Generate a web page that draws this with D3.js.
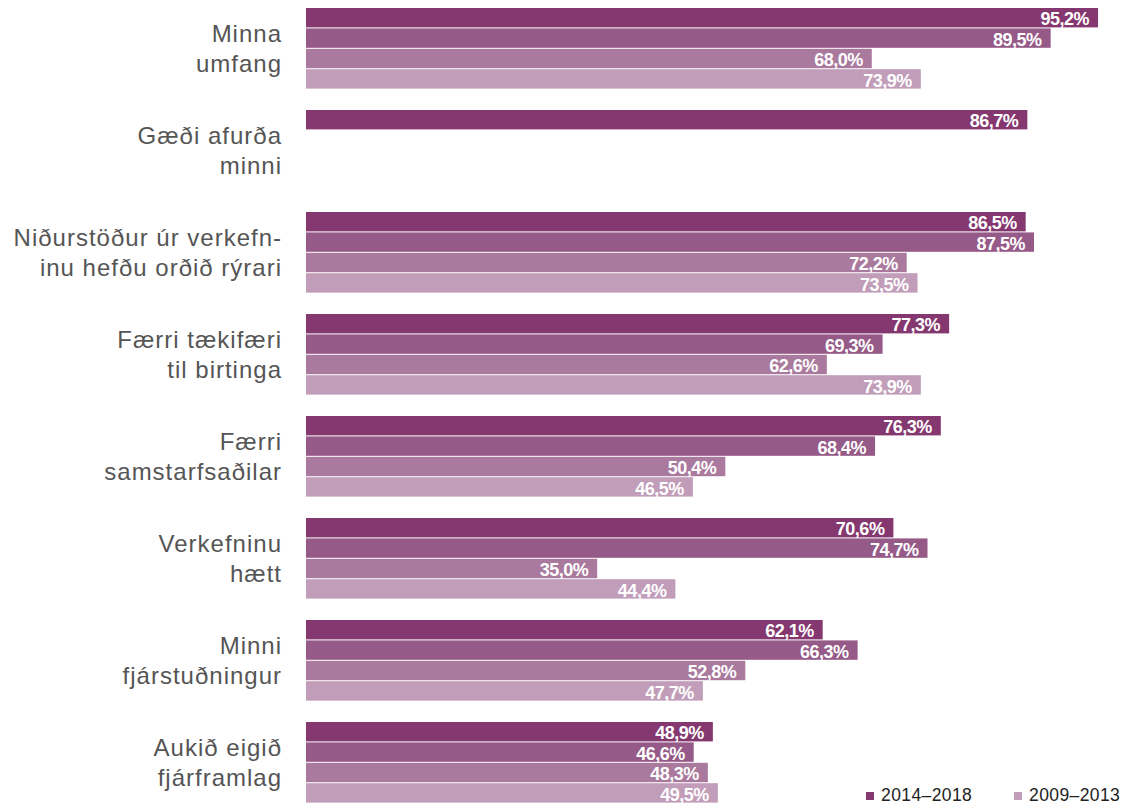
<!DOCTYPE html>
<html>
<head>
<meta charset="utf-8">
<script src="https://cdn.jsdelivr.net/npm/d3@7/dist/d3.min.js"></script>
<style>
  html, body { margin: 0; padding: 0; background: #fff; }
  svg { display: block; }
</style>
</head>
<body>
<svg id="chart" width="1127" height="804"></svg>
<script>
// Categories (each label split into display lines)
const categories = [
  ["Minna", "umfang"],
  ["Gæði afurða", "minni"],
  ["Niðurstöður úr verkefn-", "inu hefðu orðið rýrari"],
  ["Færri tækifæri", "til birtinga"],
  ["Færri", "samstarfsaðilar"],
  ["Verkefninu", "hætt"],
  ["Minni", "fjárstuðningur"],
  ["Aukið eigið", "fjárframlag"]
];

// Series values (percent); null where no bar is shown
const seriesA = [95.2, 86.7, 86.5, 77.3, 76.3, 70.6, 62.1, 48.9];
const seriesB = [89.5, null, 87.5, 69.3, 68.4, 74.7, 66.3, 46.6];
const seriesC = [68.0, null, 72.2, 62.6, 50.4, 35.0, 52.8, 48.3];
const seriesD = [73.9, null, 73.5, 73.9, 46.5, 44.4, 47.7, 49.5];

const seriesKeys = ["a", "b", "c", "d"];
const seriesColors = ["#84386f", "#955a87", "#a97a9d", "#c19dba"];
const legendItems = [
  { label: "2014–2018", color: "#84386f" },
  { label: "2009–2013", color: "#c19dba" }
];

const svg = d3.select("#chart");

const rows = categories.map((c, i) => ({
  idx: i,
  lines: c,
  values: [seriesA[i], seriesB[i], seriesC[i], seriesD[i]]
}));

const x = d3.scaleLinear().domain([0, 100]).range([306, 1138]);
const y = d3.scaleBand()
  .domain(d3.range(categories.length))
  .range([8, 803.6])
  .paddingInner(0.2)
  .paddingOuter(0);
const ySub = d3.scaleBand()
  .domain(seriesKeys)
  .range([0, y.bandwidth()]);

const fmt = v => d3.format(".1f")(v).replace(".", ",") + "%";

const groups = svg.selectAll("g.group")
  .data(rows)
  .join("g")
  .attr("class", "group")
  .attr("transform", d => `translate(0,${y(d.idx)})`);

const bars = groups.selectAll("g.bar")
  .data(d => d.values.map((v, k) => ({ v, k })).filter(e => e.v != null))
  .join("g")
  .attr("class", "bar");

bars.append("rect")
  .attr("x", x(0))
  .attr("y", d => ySub(seriesKeys[d.k]))
  .attr("width", d => x(d.v) - x(0))
  .attr("height", ySub.bandwidth() - 1)
  .attr("fill", d => seriesColors[d.k]);

bars.append("text")
  .attr("x", d => x(d.v) - 9)
  .attr("y", d => ySub(seriesKeys[d.k]) + ySub.bandwidth() / 2)
  .attr("dy", "0.4em")
  .attr("text-anchor", "end")
  .attr("fill", "#fff")
  .attr("font-family", "'Liberation Sans', Arial, sans-serif")
  .attr("font-weight", "bold")
  .attr("font-size", 18)
  .attr("letter-spacing", "-0.5px")
  .text(d => fmt(d.v));

// Category labels, right-aligned left of the bars
const lineH = 30;
groups.append("text")
  .attr("text-anchor", "end")
  .attr("fill", "#555")
  .attr("font-family", "'Liberation Sans', Arial, sans-serif")
  .attr("font-size", 24)
  .attr("letter-spacing", "1px")
  .selectAll("tspan")
  .data(d => d.lines.map((t, j) => ({ t, j, n: d.lines.length })))
  .join("tspan")
  .attr("x", 282)
  .attr("y", d => y.bandwidth() / 2 + (d.j - (d.n - 1) / 2) * lineH)
  .attr("dy", "0.36em")
  .text(d => d.t);

// Legend
const legend = svg.append("g")
  .selectAll("g")
  .data(legendItems)
  .join("g")
  .attr("transform", (d, i) => `translate(${[866, 1014][i]},${796})`);

legend.append("rect")
  .attr("x", 0).attr("y", -4)
  .attr("width", 8).attr("height", 8)
  .attr("fill", d => d.color);

legend.append("text")
  .attr("x", 15)
  .attr("y", 4.5)
  .attr("fill", "#222")
  .attr("font-family", "'Liberation Sans', Arial, sans-serif")
  .attr("font-size", 17.5)
  .attr("letter-spacing", "0.4px")
  .text(d => d.label);
</script>
</body>
</html>
